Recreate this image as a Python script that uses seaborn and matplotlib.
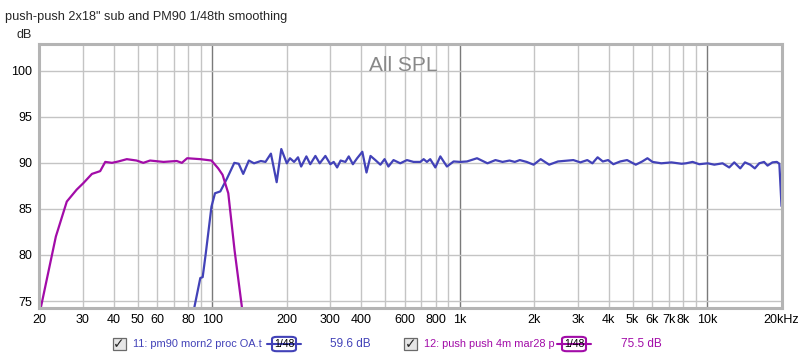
import matplotlib
matplotlib.use("Agg")
import matplotlib.pyplot as plt
import matplotlib.ticker as mticker
from matplotlib.patches import FancyBboxPatch, Rectangle
import numpy as np
import pandas as pd
import seaborn as sns

TITLE = 'push-push 2x18" sub and PM90 1/48th smoothing'

# trace 12: sub (purple)
sub_freq = [20, 20.3, 23.3, 25.8, 28.3, 30.1, 32.6, 35.2, 36.9, 39.3, 41.7, 45.1, 49.4, 52.6,
            56.0, 63.5, 71.8, 75.3, 79.1, 89.4, 99.2, 105.6, 110, 116, 123, 131.6, 136]
sub_db = [74.0, 74.4, 82.0, 85.8, 87.1, 87.8, 88.8, 89.1, 90.1, 90.0, 90.15, 90.4, 90.25, 90.0,
          90.25, 90.1, 90.2, 90.0, 90.5, 90.4, 90.25, 89.4, 88.7, 86.7, 80.5, 74.4, 71.5]

# trace 11: PM90 (blue)
pm_freq = [83, 84.7, 89.4, 91.4, 94.1, 99.2, 102.5, 107.7, 114.6, 122.7, 127.8, 133.3, 140.5,
           147.4, 157.1, 164, 172.5, 182, 190, 200, 206, 214, 222, 228.6, 240, 248.8, 261,
           271.7, 286.4, 300, 309.5, 319.5, 330, 345, 356, 370, 385, 404, 420, 436, 456, 478,
           497, 515, 540, 575, 612, 651, 693, 715, 737, 760, 797, 835, 888, 945, 1005, 1070,
           1175, 1295, 1395, 1490, 1590, 1670, 1750, 1865, 1990, 2125, 2300, 2495, 2880, 3075,
           3280, 3440, 3610, 3790, 3980, 4180, 4455, 4750, 5150, 5470, 5740, 6020, 6530, 7180,
           7890, 8220, 8740, 9300, 10060, 10700, 11550, 12290, 12880, 13620, 14230, 14940,
           15600, 16250, 17000, 17560, 18380, 19150, 19600, 20000]
pm_db = [73.0, 74.4, 77.5, 77.6, 80.2, 85.25, 86.7, 86.9, 88.3, 90.0, 89.9, 88.8, 90.25,
         89.95, 90.2, 90.1, 91.0, 87.9, 91.5, 89.95, 90.5, 90.1, 90.6, 89.6, 90.7, 89.85, 90.75,
         89.95, 90.75, 89.85, 90.1, 89.5, 90.25, 90.1, 90.7, 89.85, 90.5, 91.2, 88.95, 90.75,
         90.3, 89.8, 90.4, 89.6, 90.3, 89.95, 90.3, 90.1, 90.1, 90.4, 90.1, 90.4, 89.5, 90.7,
         89.6, 90.15, 90.1, 90.15, 90.5, 89.95, 90.3, 90.1, 90.25, 90.1, 90.3, 90.1, 89.8,
         90.4, 89.8, 90.15, 90.3, 90.05, 90.3, 89.95, 90.6, 90.15, 90.3, 89.85, 90.15, 90.3,
         89.8, 90.15, 90.5, 90.1, 89.95, 90.05, 89.9, 89.95, 90.1, 89.85, 89.95, 89.8, 89.95,
         89.5, 90.05, 89.4, 90.05, 89.8, 89.4, 89.95, 90.1, 89.7, 90.05, 90.1, 89.9, 85.3]

x_ticks = [20, 30, 40, 50, 60, 80, 100, 200, 300, 400, 600, 800, 1000, 2000, 3000, 4000,
           5000, 6000, 7000, 8000, 10000, 20000]
x_labels = ["20", "30", "40", "50", "60", "80", "100", "200", "300", "400", "600", "800", "1k",
            "2k", "3k", "4k", "5k", "6k", "7k", "8k", "10k", "20kHz"]
y_ticks = [75, 80, 85, 90, 95, 100]

legend_names = ["11: pm90 morn2 proc OA.t", "12: push push 4m mar28 p"]
legend_levels = ["59.6 dB", "75.5 dB"]

BLUE = "#4242b8"
PURPLE = "#a20ca8"

sns.set_style("white")
plt.rcParams["font.family"] = ["Liberation Sans", "DejaVu Sans"]

df = pd.concat([
    pd.DataFrame({"freq": pm_freq, "spl": pm_db, "trace": legend_names[0]}),
    pd.DataFrame({"freq": sub_freq, "spl": sub_db, "trace": legend_names[1]}),
])

fig = plt.figure(figsize=(8, 3.58), dpi=100)
ax = fig.add_axes([0.0493, 0.1397, 0.9276, 0.7375])

ax.set_xscale("log")
ax.set_xlim(20, 20000)
ax.set_ylim(74.25, 102.9)

# grid: every 1..9 multiple, decades darker
minor = [m * 10 ** e for e in range(1, 5) for m in range(1, 10)]
minor = [v for v in minor if 20 <= v <= 20000]
for v in minor:
    c = "#7a7a7a" if v in (100, 1000, 10000) else "#c4c4c4"
    ax.axvline(v, color=c, lw=1.0, zorder=0)
for v in y_ticks:
    ax.axhline(v, color="#c4c4c4", lw=1.0, zorder=0)

sns.lineplot(data=df, x="freq", y="spl", hue="trace", palette=[BLUE, PURPLE],
             sort=False, estimator=None, lw=1.6, legend=False, ax=ax)

ax.xaxis.set_major_locator(mticker.FixedLocator(x_ticks))
ax.xaxis.set_major_formatter(mticker.FixedFormatter(x_labels))
ax.xaxis.set_minor_locator(mticker.NullLocator())
ax.set_yticks(y_ticks)
ax.set_yticklabels([str(v) for v in y_ticks])
ax.tick_params(axis="both", length=0, labelsize=9, colors="black", pad=4)
ax.tick_params(axis="y", pad=5)
ax.set_xlabel("")
ax.set_ylabel("")

for side in ("top", "right", "left", "bottom"):
    ax.spines[side].set_color("#b4b4b4")
    ax.spines[side].set_linewidth(2.2)

ax.text(0.49, 0.955, "All SPL", transform=ax.transAxes, ha="center", va="top",
        fontsize=15, color="#888888")

fig.text(0.006, 0.952, TITLE, ha="left", va="center", fontsize=9.2)
fig.text(0.040, 0.903, "dB", ha="right", va="center", fontsize=9)


# legend row along the bottom
def legend_item(x0, name, level, color, box_x, level_x):
    y = 0.039
    fig.patches.append(Rectangle((x0, y - 0.018), 0.016, 0.036, transform=fig.transFigure,
                                 facecolor="#e6e6e6", edgecolor="#6a6a6a", lw=0.9))
    fig.text(x0 + 0.008, y, "\u2713", ha="center", va="center", fontsize=10,
             family=["DejaVu Sans"], fontweight="bold")
    fig.text(x0 + 0.025, y, name, ha="left", va="center", fontsize=7.9, color=color)
    fig.lines.append(plt.Line2D([box_x - 0.006, box_x + 0.036], [y, y],
                                transform=fig.transFigure, color=color, lw=1.5))
    fig.patches.append(FancyBboxPatch((box_x, y - 0.02), 0.030, 0.040,
                                      boxstyle="round,pad=0,rounding_size=0.006",
                                      transform=fig.transFigure, facecolor="white",
                                      edgecolor=color, lw=1.5))
    fig.text(box_x + 0.015, y, "1/48", ha="center", va="center", fontsize=7.5,
             color="black")
    fig.text(level_x, y, level, ha="left", va="center", fontsize=8.5, color=color)


legend_item(0.141, legend_names[0], legend_levels[0], BLUE, 0.340, 0.412)
legend_item(0.505, legend_names[1], legend_levels[1], PURPLE, 0.7025, 0.776)

fig.savefig("out.png", dpi=100, facecolor="white")
